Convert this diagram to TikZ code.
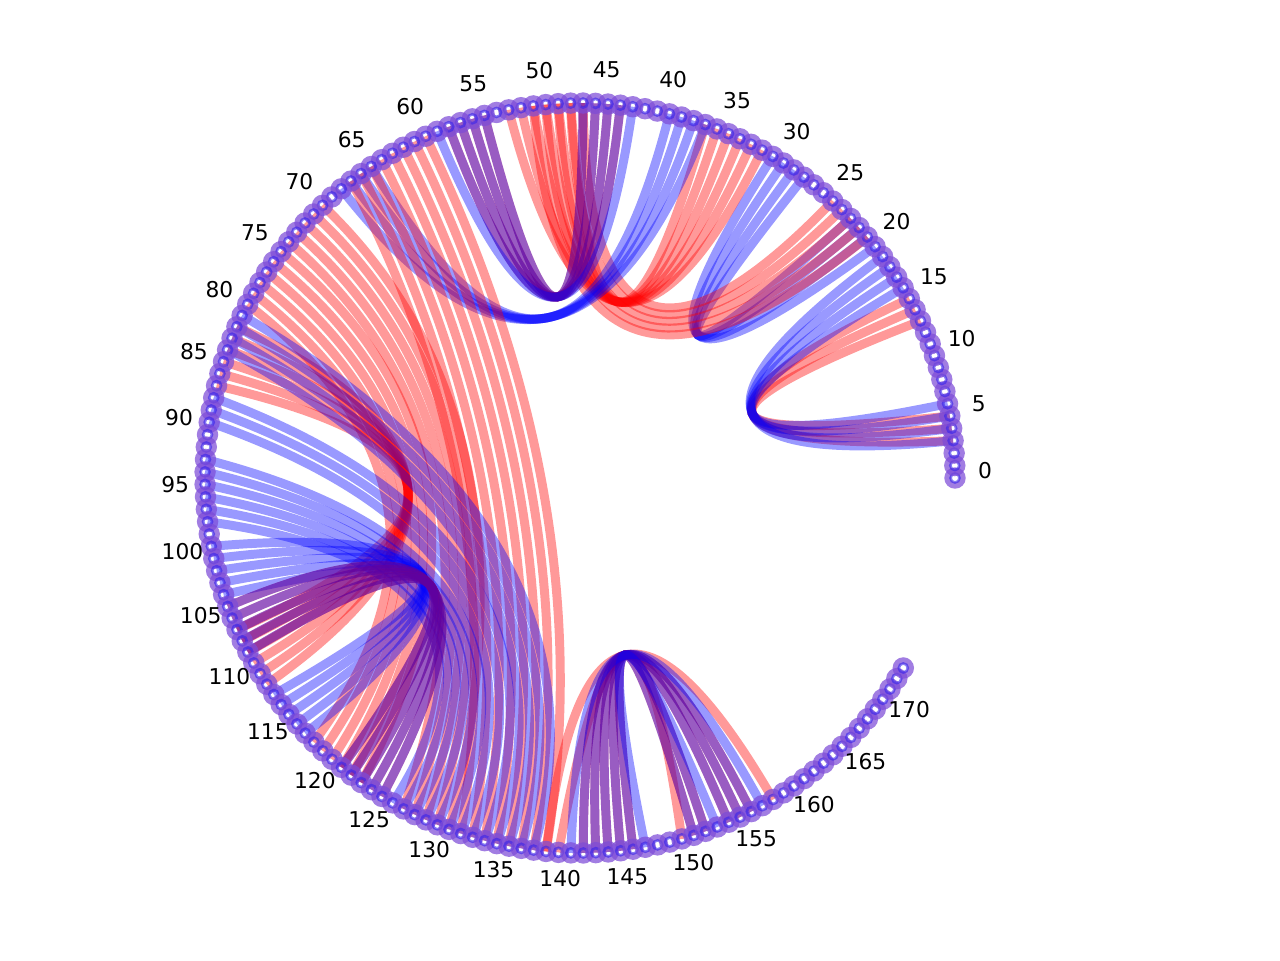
\documentclass[tikz,border=0pt]{standalone}
\usepackage{fontspec}
\setmainfont{DejaVu Sans}
\usetikzlibrary{calc}
\definecolor{ringout}{RGB}{125,75,215}
\definecolor{ringin}{RGB}{55,35,235}
\tikzset{
  er/.style={draw=red, draw opacity=0.4, line width=5.1pt},
  eb/.style={draw=blue, draw opacity=0.4, line width=5.1pt},
  ringo/.style={draw=ringout, draw opacity=0.72, line width=3.6pt},
  ringi/.style={draw=ringin, draw opacity=0.6, line width=1.5pt},
  lbl/.style={font=\fontsize{12.4}{14}\selectfont, inner sep=0pt, text=black},
}
\newcommand\chd[4]{\draw[#4] (n#1) .. controls ($1.3333*#3-0.3333*(n#2)$) and ($1.3333*#3-0.3333*(n#1)$) .. (n#2);}
\newcommand\pchd[3]{\chd{#1}{#2}{#3}{er}\chd{#1}{#2}{#3}{eb}}
\begin{document}
\begin{tikzpicture}[x=0.02cm,y=-0.02cm]
\useasboundingbox (0,0) rectangle (1280,960);
\foreach \i in {0,...,173} {\coordinate (n\i) at ({580+375*cos(1.905*\i)},{478-375*sin(1.905*\i)});}
% B1
\foreach \a/\b in {5/13,4/14,3/15} {\chd{\a}{\b}{(752,413)}{er}}
\foreach \a/\b in {6/16,5/17,4/18,3/19} {\chd{\a}{\b}{(752,413)}{eb}}
% B2
\foreach \a/\b in {28/23,29/22,30/21,31/20} {\chd{\a}{\b}{(698,335)}{eb}}
% R1
\foreach \a/\b/\p/\q in {47/25/648/304,48/24/644/310,49/23/640/316,50/22/636/322,51/21/632/328} {\chd{\a}{\b}{(\p,\q)}{er}}
% R2
\foreach \a/\b in {48/37,49/36,50/35,51/34,52/33,53/32} {\chd{\a}{\b}{(619,302)}{er}}
% B3
\foreach \a/\b in {55/47,56/46,57/45,58/44} {\pchd{\a}{\b}{(557,297)}}
\chd{59}{43}{(557,297)}{eb}
% B4
\foreach \a/\b in {65/40,66/39,67/38,68/37} {\chd{\a}{\b}{(546,318)}{eb}}
% L long red
\foreach \a/\b/\p/\q in {60/139/545/500,61/138/533/500,62/137/521/500,63/136/509/500,64/135/497/500,65/134/485/500,66/133/473/500,67/132/461/500} {\chd{\a}{\b}{(\p,\q)}{er}}
% F red fan
\foreach \a/\b/\p/\q in {70/131/468/470,71/130/460/474,72/129/452/478,73/128/444/482,74/127/436/486,75/123/428/490,76/122/420/494,77/121/412/498,78/120/404/502,79/119/396/506,80/118/388/510} {\chd{\a}{\b}{(\p,\q)}{er}}
% RU red
\foreach \a/\b in {82/112,83/111,84/110,85/109,86/108,87/107} {\chd{\a}{\b}{(408,490)}{er}}
% G1 blue
\foreach \a/\b/\p/\q in {81/138/505/560,82/137/497/565,83/136/489/570,84/135/481/575,88/134/473/580,89/133/465/585,90/132/457/590} {\chd{\a}{\b}{(\p,\q)}{eb}}
% G2 blue
\foreach \a/\b/\p/\q in {93/131/452/600,94/130/446/603,95/129/440/606,96/128/434/609,97/127/428/612,98/126/422/615} {\chd{\a}{\b}{(\p,\q)}{eb}}
% H5
\foreach \a/\b in {100/117,101/116,102/115,103/114,104/113} {\chd{\a}{\b}{(423,577)}{eb}}
\foreach \a/\b in {105/125,106/124,107/123,108/122,109/121} {\pchd{\a}{\b}{(430,585)}}
% BB bottom
\foreach \a/\b in {139/158,140/150} {\chd{\a}{\b}{(625,655)}{er}}
\foreach \a/\b in {142/156,143/155,144/154,145/152,146/151} {\pchd{\a}{\b}{(625,655)}}
\foreach \a/\b in {141/157,147/153} {\chd{\a}{\b}{(625,655)}{eb}}
% nodes
\foreach \i in {0,...,173} {\draw[ringo] (n\i) circle[radius=0.15cm]; \draw[ringi] (n\i) circle[radius=0.09cm];}
% labels
\foreach \i in {0,5,...,170} {\node[lbl] (l\i) at ({580+405*cos(1.905*\i+0.5)},{474-405*sin(1.905*\i+0.5)}) {\i};}
\end{tikzpicture}
\end{document}
